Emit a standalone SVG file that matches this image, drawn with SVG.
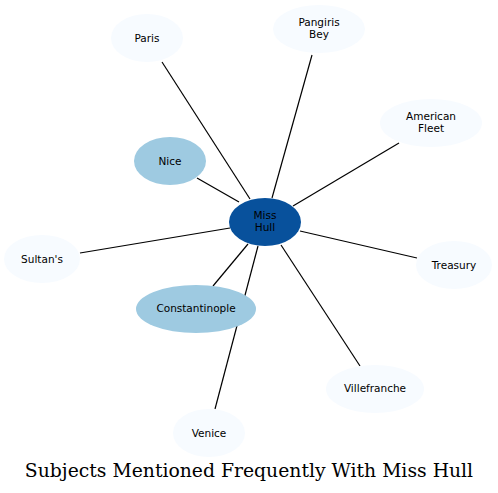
<svg xmlns="http://www.w3.org/2000/svg" width="498" height="493" viewBox="0 0 498 493">
<style>
.n ellipse{fill:#f7fbff;stroke:none}
.n.m ellipse{fill:#9ecae1}
.n.c ellipse{fill:#08519c}
.n text{font-family:"DejaVu Sans",sans-serif;font-size:10.5px;fill:#000;text-anchor:middle}
#edges line{stroke:#000;stroke-width:1.2}
.title{font-family:"DejaVu Serif",serif;font-size:18.8px;text-anchor:middle;fill:#000}
</style>
<rect width="498" height="493" fill="#fff"/>
<g id="edges">
<line x1="162" y1="62" x2="250" y2="199"/>
<line x1="312" y1="55" x2="272" y2="198"/>
<line x1="399" y1="143" x2="293" y2="206"/>
<line x1="197" y1="178" x2="239" y2="202"/>
<line x1="80" y1="253" x2="230" y2="228"/>
<line x1="417" y1="258" x2="300" y2="231"/>
<line x1="213" y1="286" x2="248" y2="244"/>
<line x1="360" y1="366" x2="281" y2="245"/>
<line x1="215" y1="409" x2="258" y2="246"/>
</g>
<g id="paris" class="n"><ellipse cx="147" cy="38" rx="36" ry="24"/><text x="147" y="42">Paris</text></g>
<g id="pangiris" class="n"><ellipse cx="319" cy="29" rx="46" ry="24"/><text x="319" y="26">Pangiris</text><text x="319" y="38">Bey</text></g>
<g id="american" class="n"><ellipse cx="431" cy="123" rx="51" ry="24"/><text x="431" y="120">American</text><text x="431" y="132">Fleet</text></g>
<g id="nice" class="n m"><ellipse cx="170" cy="161" rx="36" ry="24"/><text x="170" y="165">Nice</text></g>
<g id="misshull" class="n c"><ellipse cx="265" cy="222" rx="36" ry="24"/><text x="265" y="219">Miss</text><text x="265" y="231">Hull</text></g>
<g id="sultans" class="n"><ellipse cx="42" cy="259" rx="38" ry="24"/><text x="42" y="263">Sultan's</text></g>
<g id="treasury" class="n"><ellipse cx="454" cy="265" rx="38" ry="24"/><text x="454" y="269">Treasury</text></g>
<g id="constantinople" class="n m"><ellipse cx="196" cy="309" rx="60" ry="24"/><text x="196" y="312">Constantinople</text></g>
<g id="villefranche" class="n"><ellipse cx="375" cy="389" rx="49" ry="24"/><text x="375" y="392">Villefranche</text></g>
<g id="venice" class="n"><ellipse cx="209" cy="433" rx="36" ry="24"/><text x="209" y="437">Venice</text></g>
<text class="title" x="249" y="477">Subjects Mentioned Frequently With Miss Hull</text>
</svg>
